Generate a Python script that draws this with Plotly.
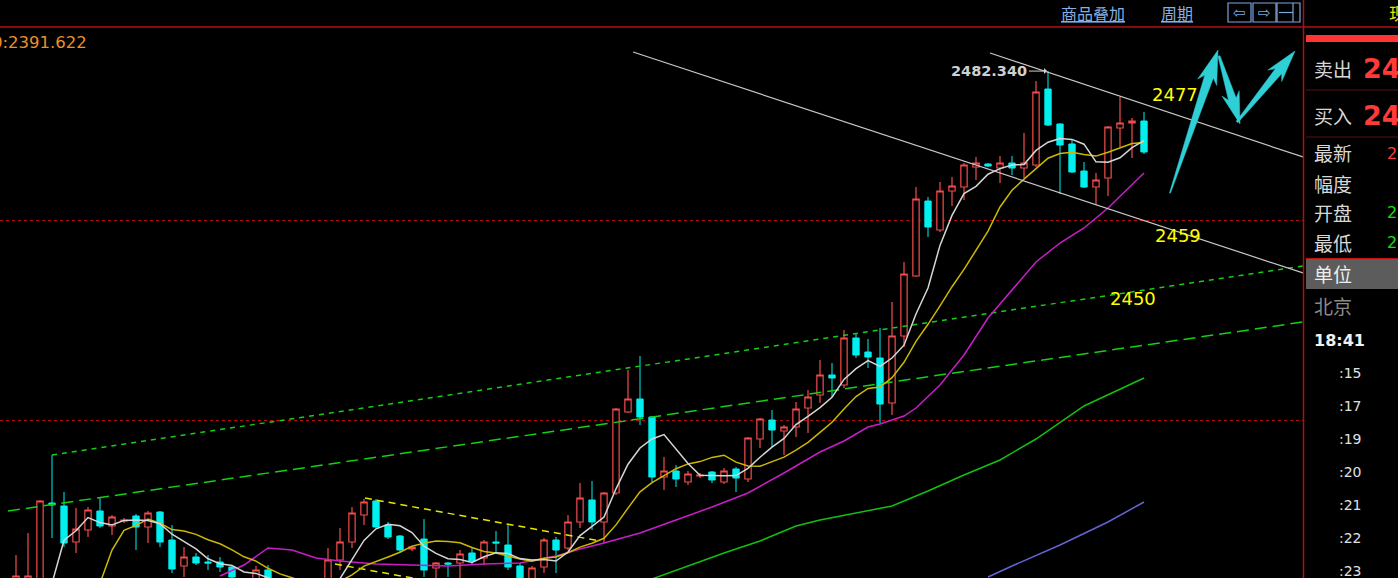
import math
import pandas as pd
import plotly.graph_objects as go

# ---------------- data ----------------
k = list(range(1, 96))
open_ = [2405.25, 2404.5, 2403, 2417.55, 2417.1, 2411.7, 2413.5, 2416.35, 2414.1, 2414.85,
         2415.6, 2413.95, 2416.2, 2412, 2408.1, 2409.45, 2408.7, 2408.7, 2407.95, 2405.25,
         2405.25, 2407.5, 2404.5, 2403, 2402.1, 2403.3, 2404.5, 2409, 2411.7, 2415.75,
         2417.85, 2414.25, 2412.6, 2410.65, 2412.15, 2407.8, 2408.55, 2408.55, 2410.05, 2409.3,
         2411.7, 2411.25, 2408.1, 2405.25, 2407.95, 2412, 2410.8, 2414.7, 2418, 2414.7,
         2419.05, 2431.2, 2433.15, 2430.45, 2421.45, 2422.35, 2420.7, 2421.6, 2422.2, 2420.7,
         2422.65, 2421.15, 2427.15, 2430, 2428.35, 2428.95, 2431.8, 2433.75, 2436.75, 2435.25,
         2442.3, 2440.2, 2439.3, 2432.55, 2442.6, 2451.6, 2462.85, 2458.5, 2464.35, 2464.95,
         2467.95, 2468.4, 2467.8, 2468.55, 2467.8, 2468.25, 2479.65, 2474.4, 2471.4, 2467.35,
         2464.95, 2466.3, 2473.8, 2474.55, 2474.85]
high = [2409.75, 2413.05, 2418, 2424.75, 2419.2, 2416.8, 2416.95, 2418.45, 2415.75, 2415.3,
        2415.9, 2416.35, 2416.35, 2414.25, 2410.95, 2410.05, 2409.75, 2409.45, 2408.25, 2406.3,
        2408.1, 2408.25, 2404.8, 2403.6, 2403.9, 2406, 2410.8, 2413.8, 2416.95, 2418.15,
        2418.15, 2414.7, 2412.75, 2411.1, 2415.15, 2408.7, 2408.7, 2410.5, 2410.95, 2412,
        2413.35, 2414.25, 2408.55, 2408.1, 2412.3, 2412.45, 2415.75, 2420.55, 2420.85, 2419.2,
        2431.8, 2437.5, 2439.6, 2430.6, 2424.45, 2423.25, 2422.35, 2422.05, 2422.35, 2422.8,
        2422.95, 2427.45, 2430.3, 2431.5, 2429.25, 2432.7, 2434.5, 2439, 2438.55, 2443.5,
        2443.05, 2442.15, 2443.8, 2447.7, 2453.7, 2464.95, 2463.45, 2465.7, 2466.45, 2468.55,
        2469.45, 2468.55, 2469.6, 2469.6, 2473.05, 2480.85, 2482.34, 2474.5, 2472.15, 2468.7,
        2467.05, 2474.1, 2478.45, 2475.3, 2476.2]
low = [2404.5, 2403.75, 2402.25, 2412.3, 2410.95, 2410.05, 2412.45, 2413.8, 2412.75, 2414.55,
       2410.5, 2411.55, 2410.95, 2407.05, 2406.45, 2408.25, 2407.5, 2407.2, 2405.25, 2403.75,
       2404.5, 2404.2, 2402.7, 2401.2, 2401.5, 2403, 2404.2, 2407.5, 2410.8, 2414.25,
       2413.8, 2412.15, 2410.2, 2410.35, 2406.45, 2406.3, 2406.45, 2406.3, 2408.25, 2408.25,
       2410.05, 2407.5, 2404.8, 2404.5, 2407.05, 2407.05, 2410.5, 2413.8, 2413.5, 2411.55,
       2418.75, 2431.05, 2429.25, 2420.7, 2419.5, 2419.95, 2420.25, 2421.3, 2420.55, 2420.4,
       2419.2, 2420.7, 2425.8, 2425.95, 2424.75, 2427.45, 2428.05, 2432.55, 2433.45, 2434.8,
       2439.3, 2437.8, 2429.55, 2430.75, 2440.95, 2451.45, 2457.45, 2458.2, 2462.1, 2463,
       2466, 2467.95, 2465.55, 2466.75, 2466.3, 2467.95, 2474.1, 2463.9, 2467.05, 2464.8,
       2462.25, 2463.6, 2470.95, 2469.3, 2469.9]
close = [2406.6, 2406.6, 2417.85, 2417.25, 2411.55, 2413.65, 2416.5, 2414.1, 2415.45, 2415,
         2413.95, 2416.05, 2411.7, 2407.65, 2409.45, 2408.55, 2408.55, 2407.95, 2406.45, 2404.5,
         2407.5, 2405.25, 2403.3, 2401.8, 2403.3, 2405.25, 2409, 2411.7, 2416.05, 2417.7,
         2413.95, 2412.45, 2410.5, 2410.95, 2407.5, 2408.55, 2408.4, 2409.9, 2408.85, 2411.7,
         2411.55, 2407.95, 2406, 2407.8, 2412, 2410.5, 2414.7, 2418.3, 2414.7, 2419.05,
         2431.65, 2433.15, 2430.45, 2421.45, 2422.35, 2421.15, 2421.9, 2421.75, 2421, 2422.35,
         2421.3, 2427.3, 2430.15, 2428.5, 2428.95, 2431.65, 2433.45, 2436.75, 2436.3, 2442.3,
         2439.75, 2439.45, 2432.4, 2442.6, 2451.9, 2463.15, 2458.95, 2464.35, 2465.1, 2468.25,
         2468.55, 2468.1, 2468.55, 2467.8, 2468.55, 2479.2, 2474.25, 2471.25, 2467.2, 2464.95,
         2466, 2473.95, 2474.55, 2474.85, 2470.2]

# lead-in values of the short averages where they enter from the bottom edge
ma5_lead_k = [4]
ma5_lead_v = [2405.5]
ma10_lead_k = [8, 9]
ma10_lead_v = [2405.5, 2410.5]

# long moving averages read along their path
purple_k = [18, 20, 22, 24, 26, 28, 31, 34, 37, 40, 43, 46, 48, 50, 53, 56, 59, 62, 65, 68,
            70, 72, 73, 75, 76, 78, 80, 82, 84, 86, 88, 90, 92, 94, 95]
purple_v = [2406.6, 2408.25, 2410.8, 2410.5, 2409.3, 2408.85, 2408.4, 2408.25, 2408.1, 2408.4,
            2408.55, 2409.6, 2410.65, 2411.55, 2413.05, 2415.0, 2416.95, 2419.05, 2422.05, 2425.2,
            2426.85, 2428.95, 2429.4, 2430.6, 2431.8, 2435.25, 2439.75, 2445.3, 2449.5, 2453.7,
            2456.55, 2458.8, 2461.8, 2465.25, 2467.05]
green_k = [54, 57, 60, 63, 66, 68, 71, 74, 77, 80, 83, 86, 90, 95]
green_v = [2406.15, 2408.1, 2410.05, 2411.85, 2414.1, 2415.0, 2416.05, 2417.1, 2419.35, 2421.75,
           2424.0, 2427.15, 2432.1, 2436.3]
blue_k = [82, 84, 88, 92, 95]
blue_v = [2406.45, 2408.1, 2411.25, 2414.7, 2417.7]

# hand-drawn analysis lines
chan_a_k, chan_a_v = [52.42, 108.25], [2485.2, 2452.05]
chan_b_k, chan_b_v = [82.17, 108.25], [2485.05, 2469.45]
gdot_k, gdot_v = [4.0, 108.25], [2424.75, 2453.1]
gdash_k, gdash_v = [0.33, 108.25], [2416.35, 2444.7]
ydash1_k, ydash1_v = [30.08, 49.67], [2418.3, 2411.85]
ydash2_k, ydash2_v = [27.58, 49.67], [2408.4, 2401.2]

hi_label = "2482.340"
level_labels = [("2477", 1175, 94), ("2459", 1178, 235), ("2450", 1133, 298)]
panel_rows = ["卖出", "买入", "最新", "幅度", "开盘", "最低"]
panel_rows_y = [68, 115, 152, 183, 213, 243]
time_labels = [":15", ":17", ":19", ":20", ":21", ":22", ":23"]
time_y = [373, 406, 439, 472, 505, 538, 571]

# ---------------- figure ----------------
W, H = 1398, 578
PW, PT = 1303, 28
PH = H - PT


def pp(x, y):
    return x / PW, (H - y) / PH


s = pd.Series(close, index=k)
ma5 = s.rolling(5).mean().dropna()
ma10 = s.rolling(10).mean().dropna()

fig = go.Figure()


def line(xs, ys, color, width=1.5, dash=None):
    fig.add_trace(go.Scatter(x=xs, y=ys, mode="lines", hoverinfo="skip",
                             line=dict(color=color, width=width, dash=dash), showlegend=False))


line(gdot_k, gdot_v, "#12d012", 1.5, "5px,5px")
line(gdash_k, gdash_v, "#12d012", 1.5, "12px,6px")
line(ydash1_k, ydash1_v, "#e6e600", 1.5, "7px,5px")
line(ydash2_k, ydash2_v, "#e6e600", 1.5, "7px,5px")
line(blue_k, blue_v, "#6464d4", 1.5)
line(green_k, green_v, "#12c012", 1.5)
line(purple_k, purple_v, "#c81ec8", 1.5)
line(ma10_lead_k + list(ma10.index), ma10_lead_v + list(ma10.values), "#cdb800", 1.5)
line(ma5_lead_k + list(ma5.index), ma5_lead_v + list(ma5.values), "#d6d6d6", 1.5)

fig.add_trace(go.Candlestick(
    x=k, open=open_, high=high, low=low, close=close,
    increasing=dict(line=dict(color="#f44c4c", width=1.2), fillcolor="#000000"),
    decreasing=dict(line=dict(color="#00f0f0", width=1), fillcolor="#00f0f0"),
    whiskerwidth=0, hoverinfo="skip", showlegend=False))

line(chan_a_k, chan_a_v, "#c8c8c8", 1.2)
line(chan_b_k, chan_b_v, "#c8c8c8", 1.2)

shapes = []
annos = []


def rect(x0, y0, x1, y1, fill=None, color=None, width=0):
    a0 = pp(x0, y0)
    a1 = pp(x1, y1)
    shapes.append(dict(type="rect", xref="paper", yref="paper", x0=a0[0], y0=a0[1], x1=a1[0], y1=a1[1],
                       fillcolor=fill if fill else "rgba(0,0,0,0)",
                       line=dict(color=color if color else "rgba(0,0,0,0)", width=width)))


def seg(x0, y0, x1, y1, color, width=1):
    a0 = pp(x0, y0)
    a1 = pp(x1, y1)
    shapes.append(dict(type="line", xref="paper", yref="paper", x0=a0[0], y0=a0[1], x1=a1[0], y1=a1[1],
                       line=dict(color=color, width=width)))


def arrow(x0, y0, x1, y1, wt, ws, hl, hw, color="#2fcfd6"):
    dx, dy = x1 - x0, y1 - y0
    L = math.hypot(dx, dy)
    ux, uy = dx / L, dy / L
    nx, ny = -uy, ux
    bx, by = x1 - ux * hl, y1 - uy * hl
    wx, wy = bx - ux * 6, by - uy * 6
    pts = [(x0 + nx * wt / 2, y0 + ny * wt / 2), (bx + nx * ws / 2, by + ny * ws / 2),
           (wx + nx * hw / 2, wy + ny * hw / 2), (x1, y1),
           (wx - nx * hw / 2, wy - ny * hw / 2), (bx - nx * ws / 2, by - ny * ws / 2),
           (x0 - nx * wt / 2, y0 - ny * wt / 2)]
    path = "M " + " L ".join("%.5f,%.5f" % pp(px, py) for px, py in pts) + " Z"
    shapes.append(dict(type="path", xref="paper", yref="paper", path=path,
                       fillcolor=color, line=dict(color=color, width=0.5)))


def text(t, x, y, size, color, xanchor="left", bold=False, family="DejaVu Sans", yanchor="middle"):
    px, py = pp(x, y)
    if bold:
        t = "<b>" + t + "</b>"
    annos.append(dict(text=t, x=px, y=py, xref="paper", yref="paper", showarrow=False,
                      xanchor=xanchor, yanchor=yanchor,
                      font=dict(size=size, color=color, family=family)))


# borders
seg(0, 27, W, 27, "#b01010", 1.5)
seg(1303.5, 0, 1303.5, H, "#b01010", 1.5)

# analysis arrows
arrow(1170, 193, 1218, 50, 1, 9, 28, 20)
arrow(1219, 56, 1240, 124, 2, 8, 26, 18)
arrow(1237, 122, 1295, 51, 2, 8, 26, 18)

# right panel
rect(1306, 35, W, 42, fill="#ff3434")
seg(1306, 90, W, 90, "#5a1010", 1)
seg(1306, 137, W, 137, "#5a1010", 1)
rect(1306, 259, W, 289, fill="#5c5c5c")
seg(1306, 258.5, W, 258.5, "#c01010", 1)

CJK = "Noto Sans CJK SC"
for t, yy in zip(panel_rows, panel_rows_y):
    text(t, 1312, yy, 19, "#d8d8d8", family=CJK)
text("24", 1361, 68, 27, "#ff3a3a", bold=True)
text("24", 1361, 115, 27, "#ff3a3a", bold=True)
text("2", 1385, 153, 16, "#ff3a3a")
text("2", 1385, 213, 16, "#10e010")
text("2", 1385, 243, 16, "#10e010")
text("单位", 1312, 273, 19, "#eeeeee", family=CJK)
text("北京", 1312, 305, 19, "#8a8a8a", family=CJK)
text("18:41", 1312, 340, 16, "#f0f0f0", bold=True)
for t, yy in zip(time_labels, time_y):
    text(t, 1364, yy, 14, "#e0e0e0", xanchor="right")
text("现", 1387, 12, 17, "#e8e800", family=CJK)

# top bar
text("<u>商品叠加</u>", 1093, 13, 16, "#86b0e6", xanchor="center", family=CJK)
text("<u>周期</u>", 1177, 13, 16, "#86b0e6", xanchor="center", family=CJK)
for x0 in (1228, 1253, 1277):
    rect(x0, 3, x0 + 23, 22, color="#7aa6e0", width=1.2)
text("⇦", 1239.5, 12.5, 15, "#7aa6e0", xanchor="center")
text("⇨", 1264.5, 12.5, 15, "#7aa6e0", xanchor="center")
seg(1279, 12.5, 1293, 12.5, "#7aa6e0", 1.2)
seg(1293, 3, 1293, 22, "#7aa6e0", 1.2)

# chart texts
text("0:2391.622", 89, 42, 16.5, "#e8902a", xanchor="right")
for t, xx, yy in level_labels:
    text(t, xx, yy, 18, "#ffff00", xanchor="center")

annos.append(dict(x=87, y=2482.34, xref="x", yref="y", text="<b>" + hi_label + "</b>",
                  showarrow=True, arrowhead=1, arrowsize=1, arrowwidth=1, arrowcolor="#d0d0d0",
                  ax=-19, ay=0, xanchor="right", standoff=1,
                  font=dict(size=14.5, color="#d0d0d0", family="DejaVu Sans")))

fig.update_layout(
    width=W, height=H,
    margin=dict(l=0, r=W - PW, t=PT, b=0, pad=0),
    paper_bgcolor="#000000", plot_bgcolor="#000000",
    boxgap=0.25,
    showlegend=False,
    shapes=shapes, annotations=annos,
    xaxis=dict(range=[-1 / 3, 108.25], showgrid=False, zeroline=False, showticklabels=False,
               ticks="", showline=False, rangeslider=dict(visible=False), fixedrange=True),
    yaxis=dict(range=[2406.3, 2488.8], tickvals=[2430, 2460], showticklabels=False, ticks="",
               showgrid=True, gridcolor="#b01010", griddash="dot", gridwidth=1,
               zeroline=False, showline=False, fixedrange=True),
    hovermode=False,
)

fig.write_html("out.html", config={"displayModeBar": False},
               post_script="document.body.style.margin='0';document.body.style.overflow='hidden';")
